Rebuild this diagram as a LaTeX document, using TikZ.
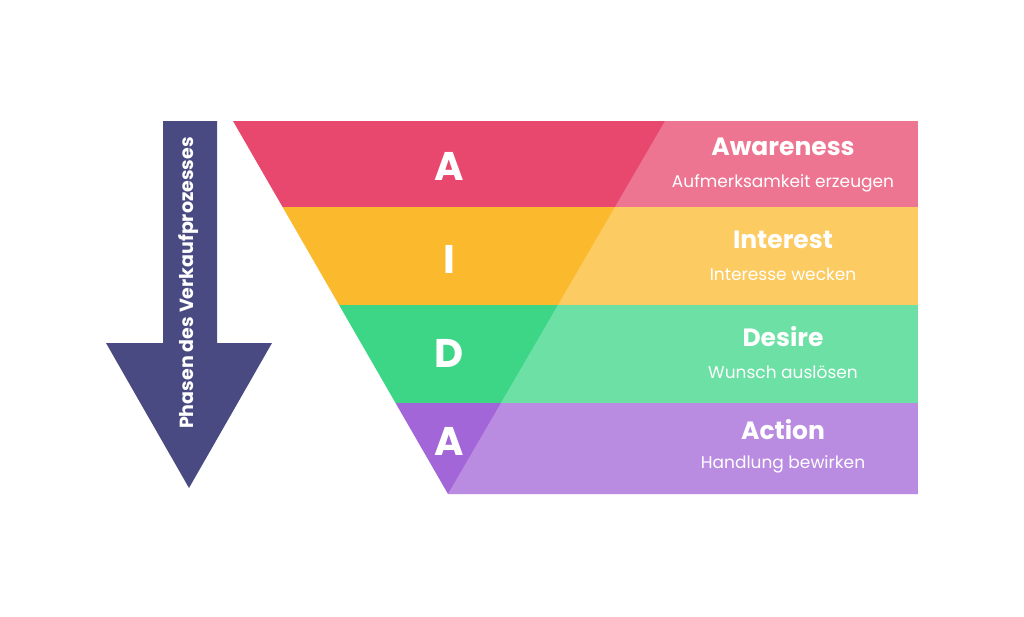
\documentclass[tikz,border=0pt]{standalone}
\usepackage{fontspec}
\setmainfont{Poppins}
\definecolor{cA}{HTML}{E8476E}
\definecolor{cI}{HTML}{FBBA2E}
\definecolor{cD}{HTML}{3DD687}
\definecolor{cB}{HTML}{A266D8}
\definecolor{arr}{HTML}{4A4A82}
\tikzset{
  letter/.style={text=white,font=\fontsize{40}{46}\selectfont\bfseries},
  title/.style={text=white,font=\fontsize{25}{30}\selectfont\bfseries},
  sub/.style={text=white,font=\fontsize{17}{20}\selectfont},
}
\begin{document}
\begin{tikzpicture}[x=1pt,y=-1pt]
\useasboundingbox (0,0) rectangle (1024,616);
\begin{scope}
\clip (233,121) -- (918,121) -- (918,494) -- (448,494) -- cycle;
\fill[cA] (0,121) rectangle (918,207);
\fill[cI] (0,207) rectangle (918,305);
\fill[cD] (0,305) rectangle (918,403);
\fill[cB] (0,403) rectangle (918,495);
\fill[white,opacity=0.25] (665,121) -- (918,121) -- (918,494) -- (448,494) -- cycle;
\end{scope}
\fill[arr] (163,121) -- (217,121) -- (217,343) -- (272,343) -- (189,488) -- (106,343) -- (163,343) -- cycle;
\node[rotate=90,text=white,font=\fontsize{19}{22}\selectfont\bfseries] (ph) at (189,283) {Phasen des Verkaufprozesses};
\node[letter] (l1) at (449,166) {A};
\node[letter] (l2) at (449,259) {I};
\node[letter] (l3) at (449,353) {D};
\node[letter] (l4) at (449,441) {A};
\node[title] (t1) at (783,147) {Awareness};
\node[sub] (s1) at (783,183) {Aufmerksamkeit erzeugen};
\node[title] (t2) at (783,240) {Interest};
\node[sub] (s2) at (783,274) {Interesse wecken};
\node[title] (t3) at (783,337) {Desire};
\node[sub] (s3) at (783,372) {Wunsch auslösen};
\node[title] (t4) at (783,430) {Action};
\node[sub] (s4) at (783,464) {Handlung bewirken};
\end{tikzpicture}
\end{document}
